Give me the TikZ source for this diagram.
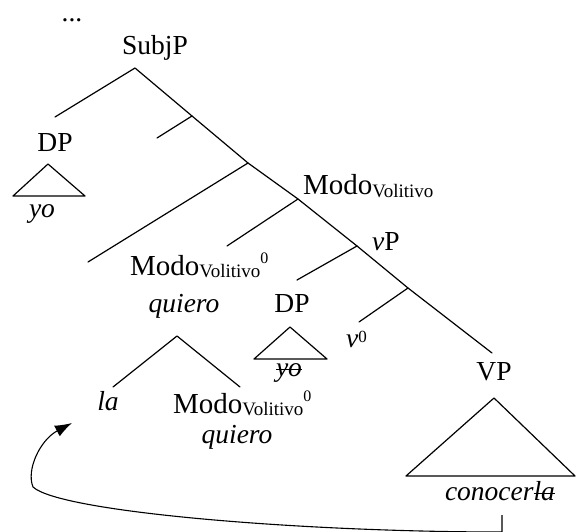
\documentclass[tikz,border=0pt]{standalone}
\usepackage{fontspec}
\setmainfont{Liberation Serif}
\usetikzlibrary{arrows.meta}
\newcommand{\volsub}{\raisebox{-2pt}{\fontsize{19}{19}\selectfont Volitivo}}
\newcommand{\zsup}{\raisebox{12pt}{\fontsize{16}{16}\selectfont 0}}
\newcommand{\strikeit}[1]{\setbox0\hbox{#1}\rlap{\rule[0.22em]{\wd0}{1.1pt}}\box0}
\begin{document}
\begin{tikzpicture}[x=1pt,y=-1pt,
  lbl/.style={inner sep=0pt, anchor=base, font=\fontsize{27.5}{32}\selectfont},
  lblw/.style={inner sep=0pt, anchor=base west, font=\fontsize{27.5}{32}\selectfont},
  br/.style={line width=1.2pt, line cap=round, line join=round}]
\useasboundingbox (0,0) rectangle (576,532);

% labels
\node[lbl] (dots) at (72,22) {...};
\node[lbl] (subj) at (155,55) {SubjP};
\node[lbl] (dp1) at (55,152) {DP};
\node[lbl] (yo1) at (42,218) {\itshape yo};
\node[lblw] (modo1) at (303,195) {{\fontsize{29}{32}\selectfont Modo}\volsub};
\node[lblw] (vp) at (372,250) {\itshape v\upshape P};
\node[lblw] (modo0) at (130,275) {{\fontsize{29}{32}\selectfont Modo}\volsub\zsup};
\node[lbl] (quiero1) at (184,312) {\itshape quiero};
\node[lbl] (dp2) at (292,312) {DP};
\node[lbl] (yo2) at (289,376) {\itshape\strikeit{yo}};
\node[lblw] (v0) at (346,347) {\itshape v\upshape\raisebox{5pt}{\fontsize{17}{17}\selectfont 0}};
\node[lbl] (vpp) at (494,380) {VP};
\node[lbl] (conoc) at (500,500) {\itshape conocer\strikeit{la}};
\node[lbl] (la) at (108,410) {\itshape la};
\node[lblw] (modo0b) at (173,413) {{\fontsize{29}{32}\selectfont Modo}\volsub\zsup};
\node[lbl] (quiero2) at (237,443) {\itshape quiero};

% spine points
\coordinate (s0) at (135,68);
\coordinate (s1) at (192,116);
\coordinate (s2) at (248,163);
\coordinate (s3) at (298,199);
\coordinate (s4) at (357,246);
\coordinate (s5) at (408,288);
\coordinate (s6) at (492,353);
% branch ends
\coordinate (l0) at (55,117);
\coordinate (l1) at (157,138);
\coordinate (l2) at (88,262);
\coordinate (l3) at (227,246);
\coordinate (l4) at (297,280);
\coordinate (l5) at (359,322);

\draw[br] (l0) -- (s0) -- (s1) -- (s2) -- (s3) -- (s4) -- (s5) -- (s6);
\draw[br] (s1) -- (l1);
\draw[br] (s2) -- (l2);
\draw[br] (s3) -- (l3);
\draw[br] (s4) -- (l4);
\draw[br] (s5) -- (l5);

% triangles
\coordinate (t1a) at (48,164);
\coordinate (t1b) at (13,196);
\coordinate (t1c) at (85,196);
\draw[br] (t1a) -- (t1b) -- (t1c) -- cycle;
\coordinate (t2a) at (290,327);
\coordinate (t2b) at (254,359);
\coordinate (t2c) at (327,359);
\draw[br] (t2a) -- (t2b) -- (t2c) -- cycle;
\coordinate (t3a) at (494,398);
\coordinate (t3b) at (406,476);
\coordinate (t3c) at (575,476);
\draw[br] (t3a) -- (t3b) -- (t3c) -- cycle;

% quiero branching
\coordinate (q0) at (177,336);
\coordinate (q1) at (113,387);
\coordinate (q2) at (240,387);
\draw[br] (q1) -- (q0) -- (q2);

% movement arrow
\coordinate (a1) at (502,515);
\coordinate (a2) at (502,532);
\coordinate (a3) at (33,487);
\coordinate (a4) at (72,423);
\draw[line width=1.1pt, -{Latex[length=17pt,width=12pt]}] (a1) -- (a2)
  .. controls (300,532) and (60,512) .. (a3)
  .. controls (26,470) and (40,440) .. (a4);
\end{tikzpicture}
\end{document}
